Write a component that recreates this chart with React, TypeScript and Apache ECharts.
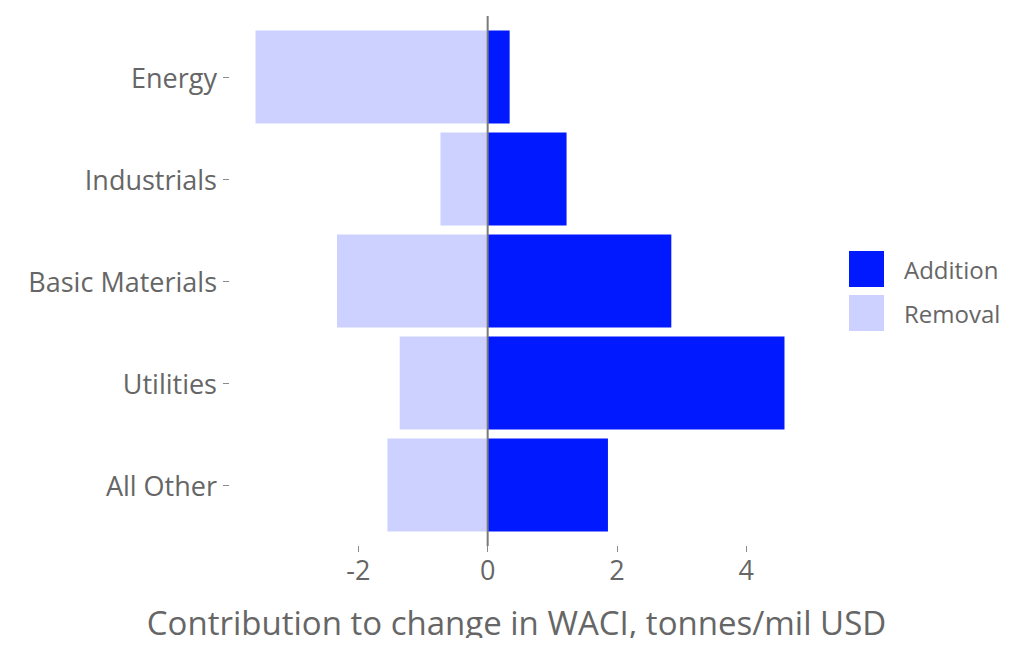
import React, { useEffect, useRef } from "react";
import * as echarts from "echarts";

const categories = ["Energy", "Industrials", "Basic Materials", "Utilities", "All Other"];
const additionValues = [0.34, 1.22, 2.84, 4.59, 1.86];
const removalValues = [-3.59, -0.73, -2.33, -1.36, -1.55];
const xTicks = [-2, 0, 2, 4];
const xMin = -4;
const xMax = 5;
const vlineX = 0;

const FONT = "Open Sans";
const TEXT = "#666666";
const TICK = "#8a8a8a";

export default function App() {
  const ref = useRef<HTMLDivElement>(null);
  useEffect(() => {
    if (!ref.current) return;
    const chart = echarts.init(ref.current, null, { renderer: "svg" });
    chart.setOption({
      animation: false,
      textStyle: { fontFamily: FONT },
      legend: {
        data: ["Addition", "Removal"],
        orient: "vertical",
        left: 849,
        top: 251,
        padding: 0,
        itemWidth: 35,
        itemHeight: 36,
        itemGap: 8,
        icon: "rect",
        textStyle: { fontSize: 24, color: TEXT, fontFamily: FONT, padding: [0, 0, 0, 15] },
      },
      grid: [
        { left: 229, right: 204, top: 16, bottom: 100 },
        { left: 229, right: 204, top: 26, bottom: 110 },
      ],
      xAxis: [
        {
          gridIndex: 0,
          type: "value",
          min: xMin,
          max: xMax,
          splitLine: { show: false },
          axisLine: { show: true, onZero: false, lineStyle: { color: "#ffffff", width: 1 } },
          axisTick: { show: true, inside: false, length: 6, customValues: xTicks, lineStyle: { color: TICK, width: 1 } },
          axisLabel: { show: true, customValues: xTicks, fontSize: 27, color: TEXT, margin: 10, fontFamily: FONT },
          name: "Contribution to change in WACI, tonnes/mil USD",
          nameLocation: "middle",
          nameGap: 60,
          nameTextStyle: { fontSize: 33, color: TEXT, fontFamily: FONT, padding: [0, 7, 0, 0] },
          z: 20,
        },
        {
          gridIndex: 1,
          type: "value",
          min: xMin,
          max: xMax,
          show: false,
        },
      ],
      yAxis: [
        {
          gridIndex: 0,
          type: "value",
          min: 0.4,
          max: 5.6,
          show: false,
        },
        {
          gridIndex: 1,
          type: "category",
          data: categories,
          inverse: true,
          axisLine: { show: true, onZero: false, lineStyle: { color: "#ffffff", width: 1 } },
          axisTick: { show: true, length: 6, alignWithLabel: true, lineStyle: { color: TICK, width: 1 } },
          axisLabel: { fontSize: 27, color: TEXT, margin: 12, fontFamily: FONT },
        },
      ],
      series: [
        {
          name: "Addition",
          type: "bar",
          xAxisIndex: 1,
          yAxisIndex: 1,
          stack: "total",
          barWidth: "91%",
          data: additionValues,
          itemStyle: { color: "#0019ff" },
        },
        {
          name: "Removal",
          type: "bar",
          xAxisIndex: 1,
          yAxisIndex: 1,
          stack: "total",
          barWidth: "91%",
          data: removalValues,
          itemStyle: { color: "#ccd1ff" },
        },
        {
          name: "zero",
          type: "line",
          xAxisIndex: 0,
          yAxisIndex: 0,
          data: [
            [vlineX, 0.4],
            [vlineX, 5.6],
          ],
          symbol: "none",
          z: 10,
          lineStyle: { color: "#7a7a7a", width: 2 },
          silent: true,
        },
      ],
    });
    return () => chart.dispose();
  }, []);
  return <div ref={ref} style={{ width: 1015, height: 646, margin: -8 }} />;
}
